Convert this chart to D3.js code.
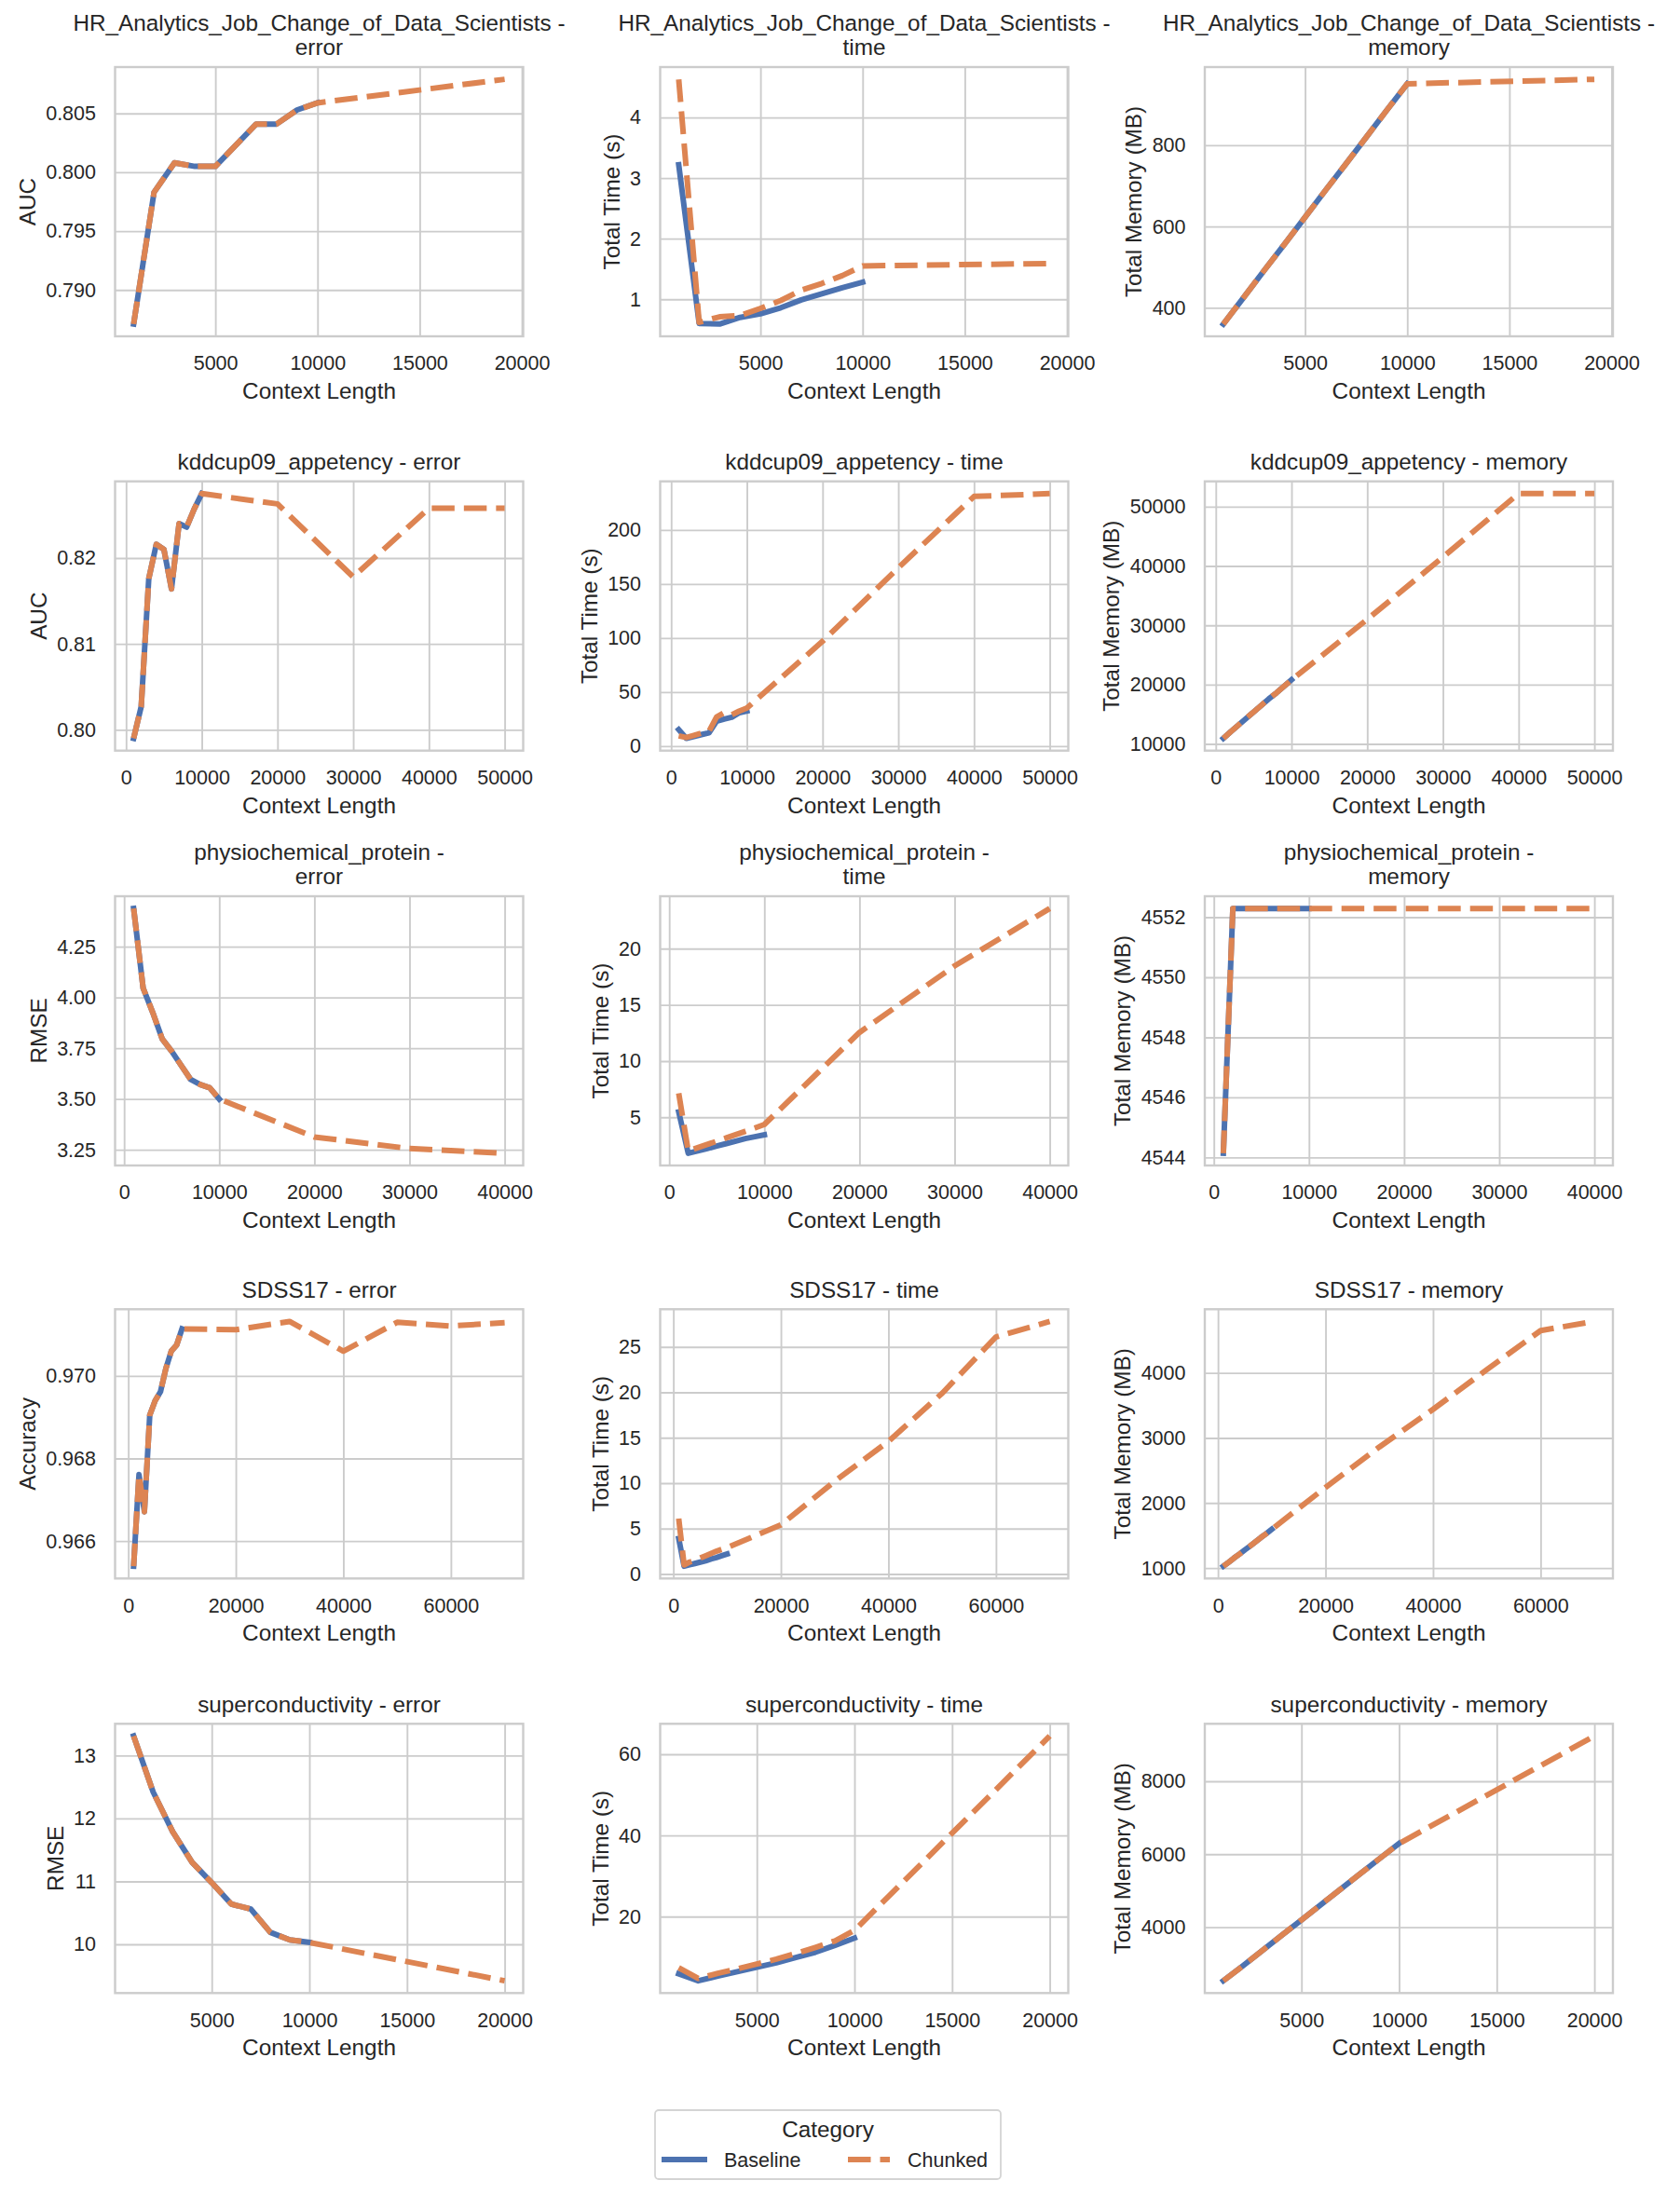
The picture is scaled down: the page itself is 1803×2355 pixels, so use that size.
<!DOCTYPE html>
<html>
<head>
<meta charset="utf-8">
<title>Context length: Baseline vs Chunked</title>
<script src="https://cdn.jsdelivr.net/npm/d3@7"></script>
<style>
  body { margin: 0; background: #fff; }
  text { font-family: Arial, 'Liberation Sans', sans-serif; fill: #262626; }
</style>
</head>
<body>
<script>
// ---- data ----
const datasetNames = ["HR_Analytics_Job_Change_of_Data_Scientists", "kddcup09_appetency",
  "physiochemical_protein", "SDSS17", "superconductivity"];
const wrapTitle = [true, false, true, false, false];
const metricNames = ["error", "time", "memory"];
const errorLabels = ["AUC", "AUC", "RMSE", "Accuracy", "RMSE"];

const baseX = [1000, 2000, 3000, 4000, 5000, 6000, 7000, 8000, 9000, 10000];
const hrChunkX = [1000, 2000, 3000, 4000, 5000, 6000, 7000, 8000, 9000, 10000, 19158];
const kddChunkX = [1000, 2000, 3000, 4000, 5000, 6000, 7000, 8000, 9000, 10000, 20000, 30000, 40000, 50000];
const physioChunkX = [1000, 2000, 3000, 4000, 5000, 6000, 7000, 8000, 9000, 10000, 20000, 30000, 40000];
const sdssChunkX = [1000, 2000, 3000, 4000, 5000, 6000, 7000, 8000, 9000, 10000, 20000, 30000, 40000, 50000, 60000, 70000];
const superChunkX = [1000, 2000, 3000, 4000, 5000, 6000, 7000, 8000, 9000, 10000, 20000];

const hrXTicks = [5000, 10000, 15000, 20000];
const kddXTicks = [0, 10000, 20000, 30000, 40000, 50000];
const physioXTicks = [0, 10000, 20000, 30000, 40000];
const sdssXTicks = [0, 20000, 40000, 60000];
const superXTicks = [5000, 10000, 15000, 20000];

// HR_Analytics
const hrErrBase = [0.7871, 0.7983, 0.8008, 0.8005, 0.8005, 0.8023, 0.8041, 0.8041, 0.8053, 0.8059];
const hrErrChunk = [0.7871, 0.7983, 0.8008, 0.8005, 0.8005, 0.8023, 0.8041, 0.8041, 0.8053, 0.8059, 0.8079];
const hrTimeBase = [3.22, 0.60, 0.59, 0.70, 0.76, 0.86, 0.99, 1.09, 1.19, 1.28];
const hrTimeChunk = [4.63, 0.62, 0.71, 0.73, 0.85, 0.98, 1.15, 1.26, 1.39, 1.55, 1.59];
const hrMemBase = [360, 426, 492, 557, 623, 689, 754, 820, 886, 951];
const hrMemChunk = [360, 426, 492, 557, 623, 689, 754, 820, 886, 951, 962];
const hrErrTicks = [0.790, 0.795, 0.800, 0.805];
const hrTimeTicks = [1, 2, 3, 4];
const hrMemTicks = [400, 600, 800];

// kddcup09_appetency
const kddErrBase = [0.7990, 0.8027, 0.8176, 0.8216, 0.8210, 0.8164, 0.8240, 0.8236, 0.8257, 0.8275];
const kddErrChunk = [0.7990, 0.8027, 0.8176, 0.8216, 0.8210, 0.8164, 0.8240, 0.8236, 0.8257, 0.8275, 0.8263, 0.8178, 0.8258, 0.8258];
const kddTimeBase = [15.3, 7.2, 9.0, 10.7, 12.3, 23.0, 25.0, 26.7, 31.0, 32.5];
const kddTimeChunk = [9.5, 8.0, 10.0, 12.0, 13.8, 27.0, 31.0, 29.0, 32.5, 35.3, 97, 165, 231, 233.6];
const kddMemBase = [10940, 12100, 13200, 14300, 15400, 16500, 17600, 18600, 19700, 20800];
const kddMemChunk = [10940, 12100, 13200, 14300, 15400, 16500, 17600, 18600, 19700, 20800, 31000, 41500, 52200, 52200];
const kddErrTicks = [0.80, 0.81, 0.82];
const kddTimeTicks = [0, 50, 100, 150, 200];
const kddMemTicks = [10000, 20000, 30000, 40000, 50000];

// physiochemical_protein
const physioErrBase = [4.438, 4.046, 3.927, 3.796, 3.735, 3.665, 3.596, 3.571, 3.555, 3.500];
const physioErrChunk = [4.438, 4.046, 3.927, 3.796, 3.735, 3.665, 3.596, 3.571, 3.555, 3.500, 3.313, 3.256, 3.233];
const physioTimeBase = [5.47, 1.80, 2.00, 2.22, 2.44, 2.66, 2.88, 3.10, 3.27, 3.44];
const physioTimeChunk = [7.13, 2.00, 2.30, 2.58, 2.87, 3.16, 3.45, 3.75, 4.05, 4.36, 12.55, 18.47, 23.58];
const physioMemBase = [4544.14, 4552.29, 4552.29, 4552.29, 4552.29, 4552.29, 4552.29, 4552.29, 4552.29, 4552.29];
const physioMemChunk = [4544.14, 4552.29, 4552.29, 4552.29, 4552.29, 4552.29, 4552.29, 4552.29, 4552.29, 4552.29, 4552.29, 4552.29, 4552.29];
const physioErrTicks = [3.25, 3.50, 3.75, 4.00, 4.25];
const physioTimeTicks = [5, 10, 15, 20];
const physioMemTicks = [4544, 4546, 4548, 4550, 4552];

// SDSS17
const sdssErrBase = [0.96539, 0.96761, 0.96671, 0.96905, 0.96940, 0.96962, 0.97018, 0.97060, 0.97075, 0.97114];
const sdssErrChunk = [0.96539, 0.96761, 0.96671, 0.96905, 0.96940, 0.96962, 0.97018, 0.97060, 0.97075, 0.97114, 0.97112, 0.97132, 0.97060, 0.97130, 0.97121, 0.97129];
const sdssTimeBase = [3.9, 0.85, 1.0, 1.15, 1.3, 1.45, 1.65, 1.8, 2.0, 2.2];
const sdssTimeChunk = [6.1, 1.0, 1.3, 1.5, 1.75, 2.0, 2.25, 2.5, 2.7, 2.9, 5.4, 10.2, 14.6, 19.9, 26.1, 27.8];
const sdssMemBase = [1028, 1090, 1155, 1215, 1280, 1340, 1405, 1470, 1530, 1595];
const sdssMemChunk = [1028, 1090, 1155, 1215, 1280, 1340, 1405, 1470, 1530, 1595, 2240, 2860, 3440, 4050, 4650, 4790];
const sdssErrTicks = [0.966, 0.968, 0.970];
const sdssTimeTicks = [0, 5, 10, 15, 20, 25];
const sdssMemTicks = [1000, 2000, 3000, 4000];

// superconductivity
const superErrBase = [13.31, 12.42, 11.79, 11.30, 10.98, 10.64, 10.56, 10.19, 10.07, 10.03];
const superErrChunk = [13.31, 12.42, 11.79, 11.30, 10.98, 10.64, 10.56, 10.19, 10.07, 10.03, 9.42];
const superTimeBase = [5.9, 4.16, 5.3, 6.4, 7.5, 8.6, 9.9, 11.2, 12.9, 14.7];
const superTimeChunk = [7.4, 4.75, 6.0, 7.1, 8.3, 9.5, 10.9, 12.4, 14.0, 16.6, 64.5];
const superMemBase = [2530, 2940, 3360, 3780, 4200, 4620, 5040, 5460, 5880, 6293];
const superMemChunk = [2530, 2940, 3360, 3780, 4200, 4620, 5040, 5460, 5880, 6293, 9240];
const superErrTicks = [10, 11, 12, 13];
const superTimeTicks = [20, 40, 60];
const superMemTicks = [4000, 6000, 8000];

const seriesNames = ["Baseline", "Chunked"];
const colors = ["#4c72b0", "#dd8452"];

// ---- panel table built from the arrays ----
const chunkXs = [hrChunkX, kddChunkX, physioChunkX, sdssChunkX, superChunkX];
const xTicks = [hrXTicks, kddXTicks, physioXTicks, sdssXTicks, superXTicks];
const values = [
  [[hrErrBase, hrErrChunk, hrErrTicks, ".3f"], [hrTimeBase, hrTimeChunk, hrTimeTicks, "d"], [hrMemBase, hrMemChunk, hrMemTicks, "d"]],
  [[kddErrBase, kddErrChunk, kddErrTicks, ".2f"], [kddTimeBase, kddTimeChunk, kddTimeTicks, "d"], [kddMemBase, kddMemChunk, kddMemTicks, "d"]],
  [[physioErrBase, physioErrChunk, physioErrTicks, ".2f"], [physioTimeBase, physioTimeChunk, physioTimeTicks, "d"], [physioMemBase, physioMemChunk, physioMemTicks, "d"]],
  [[sdssErrBase, sdssErrChunk, sdssErrTicks, ".3f"], [sdssTimeBase, sdssTimeChunk, sdssTimeTicks, "d"], [sdssMemBase, sdssMemChunk, sdssMemTicks, "d"]],
  [[superErrBase, superErrChunk, superErrTicks, "d"], [superTimeBase, superTimeChunk, superTimeTicks, "d"], [superMemBase, superMemChunk, superMemTicks, "d"]]
];

// ---- layout ----
const width = 1803, height = 2355;
const colLeft = [123.5, 708.5, 1293];
const rowTop = [72, 516.7, 962, 1405.3, 1850.3];
const panelW = 438, panelH = 289;
const lineW = 6, dash = "24.5,10";
const tickFont = 21.5, labelFont = 24.3;

const svg = d3.select("body").append("svg")
  .attr("width", width)
  .attr("height", height);
svg.append("rect").attr("width", width).attr("height", height).attr("fill", "#fff");

datasetNames.forEach(function (name, r) {
  metricNames.forEach(function (metric, c) {
    const [base, chunk, yTicks, fmt] = values[r][c];
    const cx = chunkXs[r];
    const g = svg.append("g").attr("transform", `translate(${colLeft[c]},${rowTop[r]})`);

    const xExt = d3.extent(cx), xPad = (xExt[1] - xExt[0]) * 0.05;
    const yExt = d3.extent(base.concat(chunk)), yPad = (yExt[1] - yExt[0]) * 0.05;
    const x = d3.scaleLinear().domain([xExt[0] - xPad, xExt[1] + xPad]).range([0, panelW]);
    const y = d3.scaleLinear().domain([yExt[0] - yPad, yExt[1] + yPad]).range([panelH, 0]);

    // grid + tick labels
    const xa = g.append("g").attr("transform", `translate(0,${panelH})`)
      .call(d3.axisBottom(x).tickValues(xTicks[r]).tickSize(-panelH).tickPadding(21).tickFormat(d3.format("d")));
    const ya = g.append("g")
      .call(d3.axisLeft(y).tickValues(yTicks).tickSize(-panelW).tickPadding(20.5).tickFormat(d3.format(fmt)));
    [xa, ya].forEach(function (a) {
      a.select(".domain").remove();
      a.selectAll("line").attr("stroke", "#cccccc").attr("stroke-width", 1.9);
      a.selectAll("text").attr("font-size", tickFont);
    });

    // lines
    const clipId = "clip" + r + "_" + c;
    g.append("clipPath").attr("id", clipId).append("rect").attr("width", panelW).attr("height", panelH);
    const line = d3.line().x(d => x(d[0])).y(d => y(d[1]));
    g.append("path")
      .datum(baseX.map((v, i) => [v, base[i]]))
      .attr("clip-path", `url(#${clipId})`)
      .attr("d", line)
      .attr("fill", "none")
      .attr("stroke", colors[0])
      .attr("stroke-width", lineW)
      .attr("stroke-linejoin", "round")
      .attr("stroke-linecap", "square");
    g.append("path")
      .datum(cx.map((v, i) => [v, chunk[i]]))
      .attr("clip-path", `url(#${clipId})`)
      .attr("d", line)
      .attr("fill", "none")
      .attr("stroke", colors[1])
      .attr("stroke-width", lineW)
      .attr("stroke-dasharray", dash)
      .attr("stroke-linejoin", "round")
      .attr("stroke-linecap", "butt");

    // frame
    g.append("rect").attr("width", panelW).attr("height", panelH)
      .attr("fill", "none").attr("stroke", "#cccccc").attr("stroke-width", 2.4);

    // title
    const lines = wrapTitle[r] ? [name + " -", metric] : [name + " - " + metric];
    lines.forEach(function (t, k) {
      g.append("text")
        .attr("x", panelW / 2)
        .attr("y", -12.7 - (lines.length - 1 - k) * 26)
        .attr("text-anchor", "middle")
        .attr("font-size", labelFont)
        .text(t);
    });

    // axis labels
    g.append("text")
      .attr("x", panelW / 2)
      .attr("y", panelH + 67)
      .attr("text-anchor", "middle")
      .attr("font-size", labelFont)
      .text("Context Length");
    let minX = 0;
    ya.selectAll("text").each(function () { minX = Math.min(minX, this.getBBox().x); });
    const yl = c === 0 ? errorLabels[r] : (c === 1 ? "Total Time (s)" : "Total Memory (MB)");
    g.append("text")
      .attr("transform", `translate(${minX - 11.5},${panelH / 2}) rotate(-90)`)
      .attr("text-anchor", "middle")
      .attr("font-size", labelFont)
      .text(yl);
  });
});

// legend
const lg = svg.append("g");
lg.append("rect").attr("x", 703).attr("y", 2265).attr("width", 371).attr("height", 74)
  .attr("rx", 4).attr("fill", "#fff").attr("stroke", "#d4d4d4").attr("stroke-width", 1.8);
lg.append("text").attr("x", 888.5).attr("y", 2293.5).attr("text-anchor", "middle")
  .attr("font-size", labelFont).text("Category");
const handleX = [713, 910], labelX = [777, 974];
seriesNames.forEach(function (s, i) {
  lg.append("line")
    .attr("x1", handleX[i]).attr("x2", handleX[i] + (i === 0 ? 43 : 45))
    .attr("y1", 2318).attr("y2", 2318)
    .attr("stroke", colors[i]).attr("stroke-width", lineW)
    .attr("stroke-linecap", i === 0 ? "square" : "butt")
    .attr("stroke-dasharray", i === 0 ? null : dash);
  lg.append("text").attr("x", labelX[i]).attr("y", 2325.5)
    .attr("font-size", tickFont).text(s);
});
</script>
</body>
</html>
